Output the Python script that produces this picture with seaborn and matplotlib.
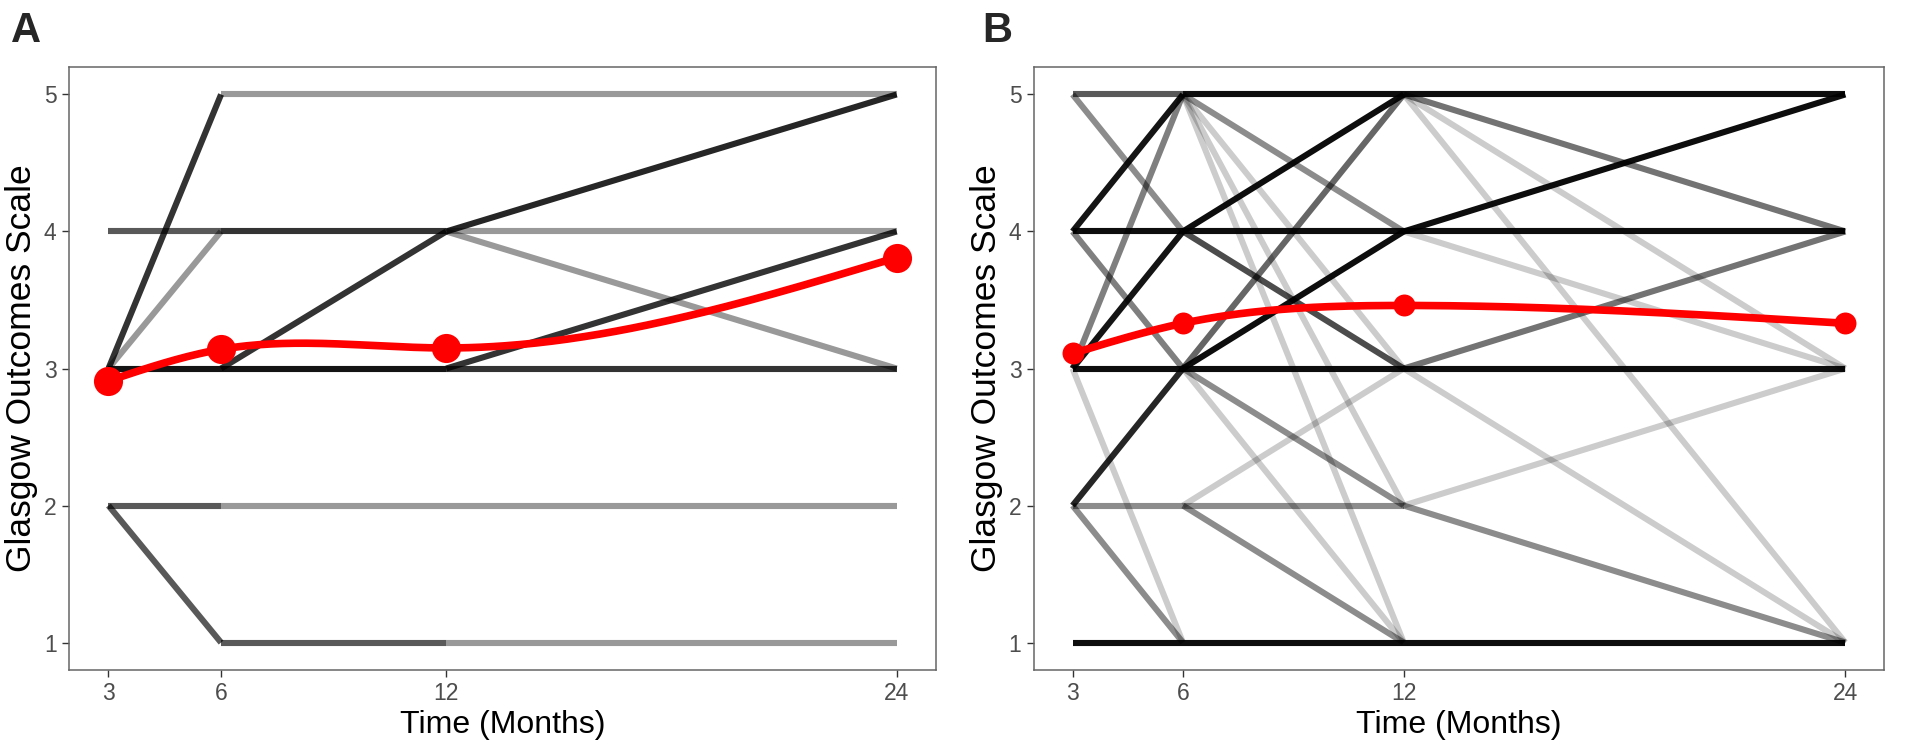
import numpy as np
import pandas as pd
import matplotlib
matplotlib.use("Agg")
import matplotlib.pyplot as plt
import seaborn as sns

# time points (months) and GOS levels
times = [3, 6, 12, 24]
gos_levels = [1, 2, 3, 4, 5]

# panel A transitions: start time, start GOS, next GOS, share of patients (drawn as alpha)
a_from_time = [3, 3, 3, 3, 3, 3, 6, 6, 6, 6, 6, 6, 12, 12, 12, 12, 12, 12, 12, 12]
a_from_gos = [3, 3, 3, 4, 2, 2, 5, 4, 3, 3, 2, 1, 5, 4, 4, 4, 3, 3, 2, 1]
a_to_gos = [3, 5, 4, 4, 2, 1, 5, 4, 3, 4, 2, 1, 5, 5, 4, 3, 4, 3, 2, 1]
a_share = [0.92, 0.8, 0.4, 0.65, 0.65, 0.65, 0.4, 0.8, 0.92, 0.8, 0.4, 0.65,
           0.4, 0.85, 0.4, 0.4, 0.8, 0.8, 0.4, 0.4]
a_means = [2.91, 3.14, 3.15, 3.81]

# panel B transitions
b_from_time = [3] * 13 + [6] * 17 + [12] * 13
b_from_gos = [5, 5, 4, 4, 4, 3, 3, 3, 3, 2, 2, 2, 1,
              5, 5, 5, 5, 5, 4, 4, 4, 3, 3, 3, 3, 3, 2, 2, 2, 1,
              5, 5, 5, 5, 4, 4, 4, 3, 3, 3, 2, 2, 1]
b_to_gos = [5, 4, 5, 4, 3, 5, 4, 3, 1, 3, 2, 1, 1,
            5, 4, 3, 2, 1, 5, 4, 3, 5, 4, 3, 2, 1, 3, 2, 1, 1,
            5, 4, 3, 1, 5, 4, 3, 4, 3, 1, 3, 1, 1]
b_share = [0.65, 0.45, 0.92, 0.95, 0.5, 0.5, 0.92, 0.95, 0.2, 0.85, 0.45, 0.45, 0.95,
           0.95, 0.45, 0.2, 0.2, 0.2, 0.95, 0.95, 0.7, 0.6, 0.95, 0.95, 0.45, 0.2, 0.2, 0.45, 0.45, 0.95,
           0.95, 0.55, 0.2, 0.2, 0.95, 0.95, 0.2, 0.55, 0.95, 0.2, 0.2, 0.45, 0.95]
b_means = [3.11, 3.33, 3.46, 3.33]

sns.set_style("white")
plt.rcParams["font.family"] = ["Liberation Sans", "DejaVu Sans"]


def segments_frame(from_time, from_gos, to_gos, share):
    rows = []
    for i, (t0, g0, g1, s) in enumerate(zip(from_time, from_gos, to_gos, share)):
        t1 = times[times.index(t0) + 1]
        rows.append({"seg": i, "time": t0, "gos": g0, "share": s})
        rows.append({"seg": i, "time": t1, "gos": g1, "share": s})
    return pd.DataFrame(rows)


def spline_smooth(x, y, n=200):
    # natural cubic spline through the mean points (the red smoother)
    x = np.asarray(x, float)
    y = np.asarray(y, float)
    k = len(x)
    h = np.diff(x)
    A = np.zeros((k, k))
    rhs = np.zeros(k)
    A[0, 0] = A[-1, -1] = 1
    for i in range(1, k - 1):
        A[i, i - 1] = h[i - 1]
        A[i, i] = 2 * (h[i - 1] + h[i])
        A[i, i + 1] = h[i]
        rhs[i] = 6 * ((y[i + 1] - y[i]) / h[i] - (y[i] - y[i - 1]) / h[i - 1])
    M = np.linalg.solve(A, rhs)
    xs = np.linspace(x[0], x[-1], n)
    idx = np.clip(np.searchsorted(x, xs) - 1, 0, k - 2)
    x0, x1, hh = x[idx], x[idx + 1], h[idx]
    ys = (M[idx] * (x1 - xs) ** 3 / (6 * hh) + M[idx + 1] * (xs - x0) ** 3 / (6 * hh)
          + (y[idx] / hh - M[idx] * hh / 6) * (x1 - xs)
          + (y[idx + 1] / hh - M[idx + 1] * hh / 6) * (xs - x0))
    return xs, ys


def transition_panel(ax, df, means, dot_size):
    for s in sorted(df["share"].unique()):
        sub = df[df["share"] == s]
        sns.lineplot(data=sub, x="time", y="gos", units="seg", estimator=None,
                     color="black", alpha=s, lw=4.4, ax=ax,
                     solid_capstyle="butt", legend=False)
    xs, ys = spline_smooth(times, means)
    sns.lineplot(x=xs, y=ys, color="#FF0000", lw=5.5, sort=False, ax=ax,
                 solid_capstyle="round", zorder=5)
    sns.scatterplot(x=times, y=means, color="#FF0000", s=dot_size, linewidth=0,
                    zorder=6, ax=ax)
    ax.set_xlim(1.95, 25.05)
    ax.set_ylim(0.8, 5.2)
    ax.set_xticks(times)
    ax.set_yticks(gos_levels)
    ax.tick_params(bottom=True, left=True, length=5, width=1, color="#333333",
                   labelsize=16.5, labelcolor="#4D4D4D", pad=4)
    ax.set_xlabel("Time (Months)", fontsize=23, color="black", labelpad=3)
    ax.set_ylabel("Glasgow Outcomes Scale", fontsize=25.5, color="black", labelpad=4)
    for sp in ax.spines.values():
        sp.set_visible(True)
        sp.set_color("#666666")
        sp.set_linewidth(1.1)


fig = plt.figure(figsize=(19.08, 7.49), dpi=100)
ax_a = fig.add_axes([0.0362, 0.1055, 0.4544, 0.805])
ax_b = fig.add_axes([0.5419, 0.1055, 0.4455, 0.805])

transition_panel(ax_a, segments_frame(a_from_time, a_from_gos, a_to_gos, a_share), a_means, 440)
transition_panel(ax_b, segments_frame(b_from_time, b_from_gos, b_to_gos, b_share), b_means, 250)

fig.text(0.006, 0.985, "A", fontsize=30, fontweight="bold", va="top", ha="left")
fig.text(0.515, 0.985, "B", fontsize=30, fontweight="bold", va="top", ha="left")

fig.savefig("out.png", dpi=100)
